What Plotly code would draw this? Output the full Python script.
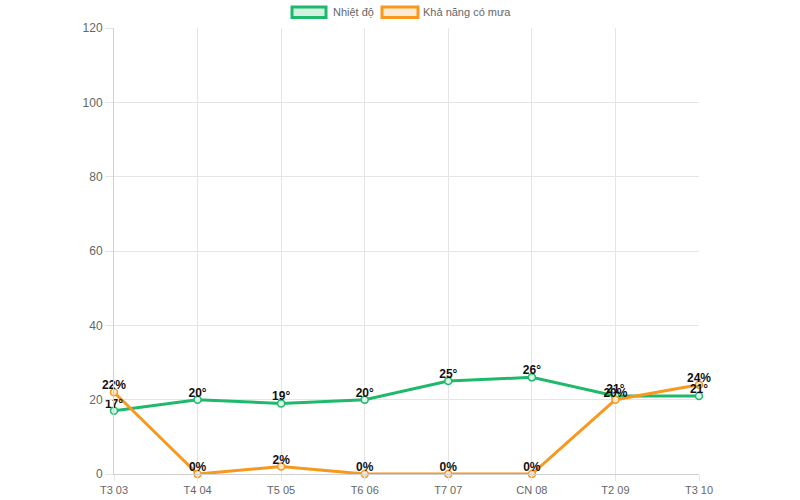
import plotly.graph_objects as go

days = ["T3 03", "T4 04", "T5 05", "T6 06", "T7 07", "CN 08", "T2 09", "T3 10"]
temperature = [17, 20, 19, 20, 25, 26, 21, 21]
rain_chance = [22, 0, 2, 0, 0, 0, 20, 24]

temp_name = "Nhiệt độ"
rain_name = "Khả năng có mưa"

GREEN = "#1fb96b"
ORANGE = "#f7981f"
GREEN_FILL = "rgba(31,185,107,0.2)"
ORANGE_FILL = "rgba(247,152,31,0.2)"
FONT = "Liberation Sans, Arial, sans-serif"

fig = go.Figure()
for vals, name, col, mfill, suffix in [
    (temperature, temp_name, GREEN, "rgba(220,245,232,1)", "°"),
    (rain_chance, rain_name, ORANGE, "rgba(253,232,205,1)", "%"),
]:
    fig.add_trace(go.Scatter(
        x=days, y=vals, name=name, mode="lines+markers",
        line=dict(color=col, width=3),
        marker=dict(size=7, color=mfill, line=dict(color=col, width=1.5)),
        cliponaxis=False, showlegend=False,
    ))
for vals, suffix in [(temperature, "°"), (rain_chance, "%")]:
    fig.add_trace(go.Scatter(
        x=days, y=vals, mode="text",
        text=[f"{v}{suffix}" for v in vals], textposition="top center",
        textfont=dict(family=FONT, size=12, color="#111", weight="bold"),
        cliponaxis=False, showlegend=False, hoverinfo="skip",
    ))

L, R, T, B = 114, 699, 28, 474
W, H = 800, 500
pw, ph = R - L, B - T

def px(x):
    return (x - L) / pw

def py(y):
    return (B - y) / ph

shapes = []
annotations = []
for x0, x1, col, fill, label, tx in [
    (292, 326, GREEN, GREEN_FILL, temp_name, 331),
    (382, 418, ORANGE, ORANGE_FILL, rain_name, 421),
]:
    shapes.append(dict(type="rect", xref="paper", yref="paper",
                       x0=px(x0), x1=px(x1), y0=py(17.5), y1=py(7),
                       line=dict(color=col, width=3), fillcolor=fill))
    annotations.append(dict(xref="paper", yref="paper", x=px(tx), y=py(12.5),
                            text=label, showarrow=False, xanchor="left", yanchor="middle",
                            font=dict(family=FONT, size=11, color="#666")))

fig.update_layout(
    width=W, height=H,
    margin=dict(l=L, r=W - R, t=T, b=H - B, autoexpand=False),
    paper_bgcolor="white", plot_bgcolor="white",
    font=dict(family=FONT, size=11, color="#666"),
    shapes=shapes, annotations=annotations,
    showlegend=False,
)
fig.update_xaxes(
    type="category", range=[0, len(days) - 1], automargin=False,
    showgrid=True, gridcolor="#e5e5e5", gridwidth=1,
    showline=True, linecolor="#d0d0d0", linewidth=1,
    ticks="outside", ticklen=6, tickcolor="#e5e5e5",
    tickfont=dict(family=FONT, size=11, color="#666"), zeroline=False,
)
fig.update_yaxes(
    range=[0, 120], dtick=20, automargin=False,
    showgrid=True, gridcolor="#e5e5e5", gridwidth=1,
    showline=True, linecolor="#d0d0d0", linewidth=1,
    ticks="outside", ticklen=8, tickcolor="#e5e5e5",
    tickfont=dict(family=FONT, size=12, color="#666"), zeroline=False,
)

fig.write_html("out.html")
